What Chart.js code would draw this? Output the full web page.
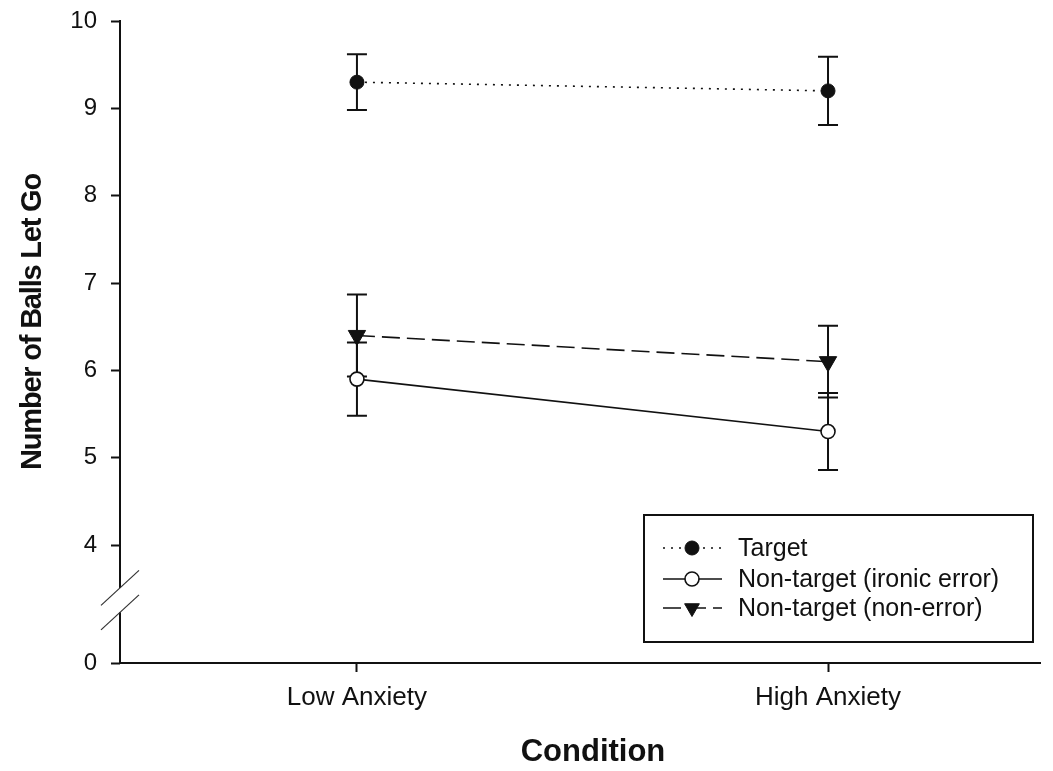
<!DOCTYPE html>
<html>
<head>
<meta charset="utf-8">
<script src="https://cdn.jsdelivr.net/npm/chart.js@4/dist/chart.umd.min.js"></script>
<style>
  html, body { margin: 0; padding: 0; background: #fff; }
  canvas { display: block; }
</style>
</head>
<body>
<canvas id="chart" width="1053" height="771"></canvas>
<script>
// Conditions on the x axis
const categories = ['Low Anxiety', 'High Anxiety'];

// Series means and error-bar half-widths
const seriesLabels = ['Target', 'Non-target (ironic error)', 'Non-target (non-error)'];
const targetMeans = [9.3, 9.2];
const targetErr = [0.32, 0.39];
const ironicMeans = [5.9, 5.3];
const ironicErr = [0.42, 0.44];
const nonErrorMeans = [6.4, 6.1];
const nonErrorErr = [0.47, 0.41];

// Y tick labels (axis is broken between 0 and 4)
const yTickValues = [0, 4, 5, 6, 7, 8, 9, 10];

const xTitle = 'Condition';
const yTitle = 'Number of Balls Let Go';

// Where 0 sits on the compressed lower part of the broken axis
const ZERO_AT = 2.65;
// Axis break gap (in axis units)
const BREAK_TOP = 3.51;
const BREAK_BOTTOM = 3.23;

const axisValue = v => (v === 0 ? ZERO_AT : v);
const INK = '#111';
const FONT = '"Liberation Sans", Arial, sans-serif';

const toPoints = means => means.map((v, i) => ({ x: i + 1, y: v }));

const datasets = [
  {
    label: seriesLabels[0],
    data: toPoints(targetMeans),
    errors: targetErr,
    borderColor: INK,
    borderWidth: 1.6,
    borderDash: [2, 6],
    pointStyle: 'circle',
    pointRadius: 7,
    pointBackgroundColor: INK,
    pointBorderColor: INK,
    pointBorderWidth: 1
  },
  {
    label: seriesLabels[1],
    data: toPoints(ironicMeans),
    errors: ironicErr,
    borderColor: INK,
    borderWidth: 1.6,
    borderDash: [],
    pointStyle: 'circle',
    pointRadius: 7,
    pointBackgroundColor: '#fff',
    pointBorderColor: INK,
    pointBorderWidth: 1.6
  },
  {
    label: seriesLabels[2],
    data: toPoints(nonErrorMeans),
    errors: nonErrorErr,
    borderColor: INK,
    borderWidth: 1.6,
    borderDash: [18, 7],
    pointStyle: 'triangle',
    pointRotation: 180,
    pointRadius: 10,
    pointBackgroundColor: INK,
    pointBorderColor: INK,
    pointBorderWidth: 1
  }
];

// Vertical error bars with caps, drawn under the markers
const errorBars = {
  id: 'errorBars',
  beforeDatasetsDraw(chart) {
    const { ctx, scales: { x, y } } = chart;
    ctx.save();
    ctx.strokeStyle = INK;
    ctx.lineWidth = 2;
    ctx.setLineDash([]);
    chart.data.datasets.forEach(ds => {
      ds.data.forEach((pt, i) => {
        const e = ds.errors[i];
        const px = x.getPixelForValue(pt.x);
        const top = y.getPixelForValue(pt.y + e);
        const bot = y.getPixelForValue(pt.y - e);
        ctx.beginPath();
        ctx.moveTo(px, top); ctx.lineTo(px, bot);
        ctx.moveTo(px - 10, top); ctx.lineTo(px + 10, top);
        ctx.moveTo(px - 10, bot); ctx.lineTo(px + 10, bot);
        ctx.stroke();
      });
    });
    ctx.restore();
  }
};

// Y axis line with a break marker between 0 and 4
const brokenAxis = {
  id: 'brokenAxis',
  afterDraw(chart) {
    const { ctx, scales: { y }, chartArea } = chart;
    const ax = chartArea.left;
    const yTop = y.getPixelForValue(10);
    const yGapTop = y.getPixelForValue(BREAK_TOP);
    const yGapBot = y.getPixelForValue(BREAK_BOTTOM);
    const yBottom = y.getPixelForValue(ZERO_AT);
    ctx.save();
    ctx.strokeStyle = INK;
    ctx.lineWidth = 2;
    ctx.beginPath();
    ctx.moveTo(ax, yTop - 1); ctx.lineTo(ax, yGapTop);
    ctx.moveTo(ax, yGapBot); ctx.lineTo(ax, yBottom);
    ctx.stroke();
    ctx.strokeStyle = '#333';
    ctx.lineWidth = 1.2;
    const dx = 19, dy = 17.5;
    [yGapTop, yGapBot].forEach(cy => {
      ctx.beginPath();
      ctx.moveTo(ax - dx, cy + dy);
      ctx.lineTo(ax + dx, cy - dy);
      ctx.stroke();
    });
    ctx.restore();
  }
};

// Axis titles
const axisTitles = {
  id: 'axisTitles',
  afterDraw(chart) {
    const { ctx, chartArea } = chart;
    ctx.save();
    ctx.fillStyle = INK;
    ctx.textAlign = 'center';
    ctx.textBaseline = 'middle';
    ctx.font = 'bold 31px ' + FONT;
    ctx.fillText(xTitle, (chartArea.left + chartArea.right) / 2 + 13, 752);
    ctx.translate(33, 322);
    ctx.rotate(-Math.PI / 2);
    ctx.font = 'bold 29px ' + FONT;
    if ('letterSpacing' in ctx) ctx.letterSpacing = '-1.2px';
    ctx.fillText(yTitle, 0, 0);
    ctx.restore();
  }
};

// Boxed legend with line samples and markers
const boxLegend = {
  id: 'boxLegend',
  afterDraw(chart) {
    const { ctx } = chart;
    const bx = 644, by = 515, bw = 389, bh = 127;
    const rows = [548, 579, 608];
    ctx.save();
    ctx.fillStyle = '#fff';
    ctx.fillRect(bx, by, bw, bh);
    ctx.strokeStyle = INK;
    ctx.lineWidth = 2;
    ctx.setLineDash([]);
    ctx.strokeRect(bx, by, bw, bh);
    chart.data.datasets.forEach((ds, i) => {
      const ry = rows[i];
      ctx.save();
      ctx.strokeStyle = ds.borderColor;
      ctx.lineWidth = ds.borderWidth;
      ctx.setLineDash(ds.borderDash || []);
      ctx.beginPath();
      ctx.moveTo(663, ry);
      ctx.lineTo(722, ry);
      ctx.stroke();
      ctx.restore();
      ctx.save();
      ctx.fillStyle = ds.pointBackgroundColor;
      ctx.strokeStyle = ds.pointBorderColor;
      ctx.lineWidth = ds.pointBorderWidth;
      Chart.helpers.drawPoint(ctx, {
        pointStyle: ds.pointStyle,
        rotation: ds.pointRotation || 0,
        radius: ds.pointStyle === 'triangle' ? 8.5 : ds.pointRadius,
        borderWidth: ds.pointBorderWidth
      }, 692, ry);
      ctx.restore();
      ctx.fillStyle = INK;
      ctx.font = '25px ' + FONT;
      ctx.textAlign = 'left';
      ctx.textBaseline = 'middle';
      ctx.fillText(ds.label, 738, ry + 1);
    });
    ctx.restore();
  }
};

new Chart(document.getElementById('chart'), {
  type: 'line',
  data: { datasets },
  options: {
    responsive: false,
    devicePixelRatio: 1,
    animation: false,
    layout: { padding: { top: 21, right: 13, left: 0, bottom: 0 } },
    plugins: { legend: { display: false }, tooltip: { enabled: false } },
    scales: {
      x: {
        type: 'linear',
        min: 0.497,
        max: 2.45,
        afterBuildTicks(scale) {
          scale.ticks = categories.map((_, i) => ({ value: i + 1 }));
        },
        afterFit(scale) {
          scale.height = 108;
          scale.paddingLeft = 0;
          scale.paddingRight = 0;
        },
        ticks: {
          callback: (v, i) => categories[i],
          color: INK,
          font: { family: FONT, size: 26 },
          padding: 10,
          maxRotation: 0,
          autoSkip: false
        },
        grid: {
          drawOnChartArea: false,
          drawTicks: true,
          tickLength: 9,
          tickWidth: 2,
          tickColor: INK
        },
        border: { display: true, color: INK, width: 2 }
      },
      y: {
        type: 'linear',
        min: ZERO_AT,
        max: 10,
        afterBuildTicks(scale) {
          scale.ticks = yTickValues.map(v => ({ value: axisValue(v) }));
        },
        afterFit(scale) {
          scale.width = 120;
          scale.paddingTop = 0;
          scale.paddingBottom = 0;
        },
        ticks: {
          callback: (v, i) => String(yTickValues[i]),
          color: INK,
          font: { family: FONT, size: 24 },
          padding: 14,
          autoSkip: false
        },
        grid: {
          drawOnChartArea: false,
          drawTicks: true,
          tickLength: 9,
          tickWidth: 2,
          tickColor: INK
        },
        border: { display: false }
      }
    }
  },
  plugins: [errorBars, brokenAxis, axisTitles, boxLegend]
});
</script>
</body>
</html>
